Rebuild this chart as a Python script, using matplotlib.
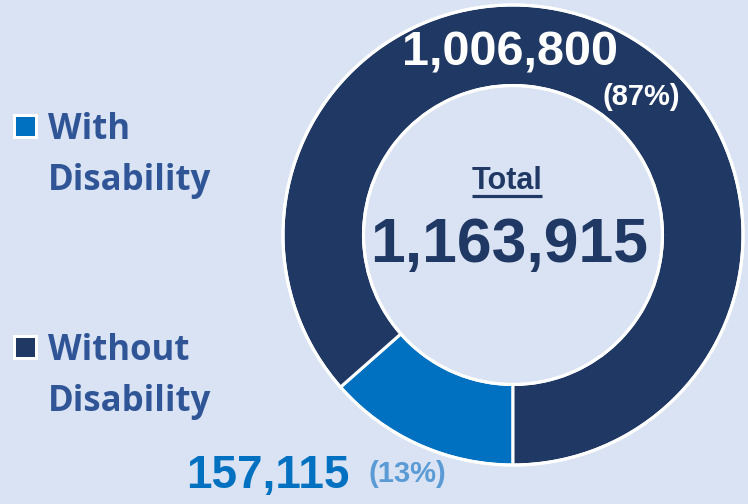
import matplotlib.pyplot as plt
from matplotlib.patches import Rectangle

# data
categories = ["With\nDisability", "Without\nDisability"]
counts = [157115, 1006800]
colors = ["#0070C0", "#203864"]

bg = "#DAE3F3"
legend_col = "#2F5597"
H = 504

def iy(y):
    # image pixel row -> data y
    return H - y

fig = plt.figure(figsize=(7.48, 5.04), dpi=100)
fig.patch.set_facecolor(bg)
ax = fig.add_axes([0, 0, 1, 1])
ax.set_facecolor(bg)

cx, cy, r = 513, iy(235), 230
ax.pie(counts, colors=colors, startangle=270, counterclock=False,
       center=(cx, cy), radius=r,
       wedgeprops=dict(width=r * 0.35, edgecolor="white", linewidth=2.2))
# white ring edges
ax.add_patch(plt.Circle((cx, cy), r, fill=False, ec="white", lw=2.2))
ax.add_patch(plt.Circle((cx, cy), r * 0.65, fill=False, ec="white", lw=2.2))

ax.set_xlim(0, 748)
ax.set_ylim(0, 504)
ax.set_aspect("equal")
ax.axis("off")

total = sum(counts)
pct = [round(c / total * 100) for c in counts]
num_font = "Liberation Sans"

# big slice label
ax.text(510, iy(53), f"{counts[1]:,}", color="white", fontsize=35, fontweight="bold",
        family=num_font, ha="center", va="center")
ax.text(641, iy(97), f"({pct[1]}%)", color="white", fontsize=21, fontweight="bold",
        family=num_font, ha="center", va="center")

# small slice label
ax.text(186, iy(476), f"{counts[0]:,}", color=colors[0], fontsize=33, fontweight="bold",
        family=num_font, ha="left", va="center")
ax.text(369, iy(474), f"({pct[0]}%)", color="#5B9BD5", fontsize=21, fontweight="bold",
        family=num_font, ha="left", va="center")

# centre total
t = ax.text(507, iy(181), "Total", color=colors[1], fontsize=22, fontweight="bold",
            family=num_font, ha="center", va="center")
ax.text(509, iy(245), f"{total:,}", color=colors[1], fontsize=45, fontweight="bold",
        family=num_font, ha="center", va="center")

fig.canvas.draw()
bb = t.get_window_extent().transformed(ax.transData.inverted())
ax.plot([bb.x0, bb.x1], [iy(196), iy(196)], color=colors[1], lw=2.3,
        solid_capstyle="butt")

# legend
leg_y = [127, 348]
for lab, col, y in zip(categories, colors, leg_y):
    ax.add_patch(Rectangle((13, iy(y) - 12), 25, 25, fc="white", ec="none"))
    ax.add_patch(Rectangle((16, iy(y) - 9), 19, 19, fc=col, ec="none"))
    ax.text(48, iy(y - 15), lab, color=legend_col, fontsize=25, fontweight="bold",
            family="Open Sans", ha="left", va="top", linespacing=1.57)

fig.savefig("out.png", dpi=100, facecolor=bg)
